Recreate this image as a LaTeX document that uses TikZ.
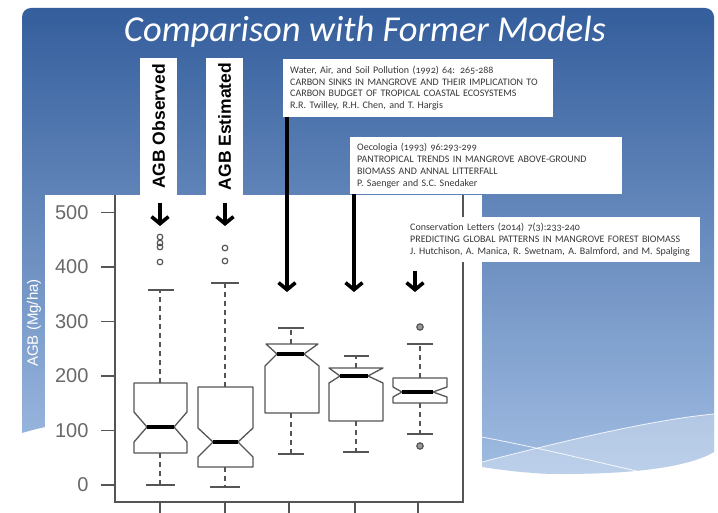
\documentclass[tikz,border=0pt]{standalone}
\usepackage{fontspec}
\setmainfont{Liberation Sans}
\newfontfamily\calfont[Numbers=OldStyle]{Carlito}
\newfontfamily\titlefont{Carlito}
\usetikzlibrary{arrows.meta}
\definecolor{bluetop}{RGB}{52,94,156}
\definecolor{bluemid}{RGB}{88,128,186}
\definecolor{bluebot}{RGB}{160,188,226}
\definecolor{axgrey}{RGB}{85,85,85}
\definecolor{lblgrey}{RGB}{105,105,105}
\definecolor{txtgrey}{RGB}{55,55,55}
\tikzset{
  refbox/.style={fill=white, anchor=north west, inner xsep=7pt, inner ysep=0pt,
    align=left, text=txtgrey, font=\calfont\fontsize{10}{11.7}\selectfont},
  collabel/.style={rotate=90, fill=white, minimum width=137pt, minimum height=37pt,
    inner sep=0pt, font=\bfseries\fontsize{17.5}{18}\selectfont},
  bigarrow/.style={line width=3.6pt, -{Straight Barb[length=7pt,width=17pt,line width=3.6pt]}},
  boxline/.style={draw=axgrey, line width=1.3pt, line join=round},
  median/.style={line width=3.2pt, black},
  whisk/.style={draw=axgrey, line width=1.3pt, dash pattern=on 5pt off 4pt},
  whiskcap/.style={draw=axgrey, line width=1.3pt},
  outl/.style={draw=axgrey, line width=1.2pt},
  plotaxis/.style={draw=axgrey, line width=1.3pt},
  ticklbl/.style={anchor=east, text=lblgrey, font=\fontsize{20}{20}\selectfont},
}
\begin{document}
\begin{tikzpicture}[x=1pt,y=-1pt]
\useasboundingbox (0,0) rectangle (718,513);
\fill[white] (0,0) rectangle (718,513);
% blue slide background
\shade[top color=bluetop, middle color=bluemid, bottom color=bluebot]
  (22,433) [rounded corners=9pt] -- (22,8) -- (714,8) [sharp corners] -- (714,452)
  .. controls (690,466) and (640,474) .. (560,474)
  .. controls (420,474) and (200,380) .. (22,433) -- cycle;
\fill[white, opacity=0.3] (482,462) .. controls (560,442) and (650,420) .. (714,414)
  -- (714,452) .. controls (690,466) and (640,474) .. (560,474) -- (482,472) -- cycle;
\draw[white, opacity=0.85, line width=0.8pt] (482,437) .. controls (560,452) and (620,468) .. (660,476);
\draw[white, opacity=0.85, line width=0.8pt] (482,462) .. controls (560,442) and (650,420) .. (714,414);
% title
\node[text=white, font=\titlefont\itshape\fontsize{36.5}{36.5}\selectfont] (title) at (365,32) {Comparison with Former Models};
% plot area
\fill[white] (45,195) rectangle (482,513);
\node[collabel] (obs) at (158.5,126.5) {AGB Observed};
\node[collabel] (est) at (224.5,126.5) {AGB Estimated};
\node[rotate=90, text=white, font=\fontsize{15}{15}\selectfont] (ylab) at (34,323) {AGB (Mg/ha)};
% frame
\draw[plotaxis] (115,195) -- (115,502) -- (463,502) -- (463,195);
% y ticks
\foreach \v/\yy in {0/485,100/430.5,200/376,300/321.5,400/267,500/212.5}{
  \draw[plotaxis] (101,\yy) -- (115,\yy);
  \node[ticklbl] (t\v) at (92,\yy) {\v};
}
% x ticks
\foreach \xx in {160,225,289,355,418}{
  \draw[plotaxis] (\xx,502) -- (\xx,514);
}
% box 1
\draw[whisk] (160,383) -- (160,290);
\draw[whisk] (160,453) -- (160,485);
\draw[whiskcap] (148,290) -- (174,290);
\draw[whiskcap] (146,485) -- (175,485);
\draw[boxline] (134,383) -- (187,383) -- (187,412) -- (174,427) -- (187,442) -- (187,453)
  -- (134,453) -- (134,442) -- (147,427) -- (134,412) -- cycle;
\draw[median] (147,427) -- (174,427);
\foreach \yy in {237,243,247,262} \draw[outl] (160,\yy) circle (2.8pt);
% box 2
\draw[whisk] (225,387) -- (225,283);
\draw[whisk] (225,467) -- (225,487);
\draw[whiskcap] (211,283) -- (239,283);
\draw[whiskcap] (210,487) -- (240,487);
\draw[boxline] (198,387) -- (253,387) -- (253,428) -- (238,442) -- (253,457) -- (253,467)
  -- (198,467) -- (198,457) -- (213,442) -- (198,428) -- cycle;
\draw[median] (213,442) -- (238,442);
\foreach \yy in {248,261} \draw[outl] (225,\yy) circle (2.8pt);
% box 3
\draw[whisk] (291,344) -- (291,328);
\draw[whisk] (291,413) -- (291,454);
\draw[whiskcap] (278,328) -- (304,328);
\draw[whiskcap] (278,454) -- (304,454);
\draw[boxline] (265,413) -- (265,366) -- (277,354) -- (266,344) -- (318,344) -- (304,354)
  -- (319,366) -- (319,413) -- cycle;
\draw[median] (277,354) -- (304,354);
% box 4
\draw[whisk] (356,368) -- (356,356);
\draw[whisk] (356,421) -- (356,452);
\draw[whiskcap] (344,356) -- (369,356);
\draw[whiskcap] (343,452) -- (369,452);
\draw[boxline] (329,421) -- (329,383) -- (340,376) -- (329,368) -- (383,368) -- (368,376)
  -- (383,383) -- (383,421) -- cycle;
\draw[median] (340,376) -- (368,376);
% box 5
\draw[whisk] (420,378) -- (420,344);
\draw[whisk] (420,403) -- (420,434);
\draw[whiskcap] (407,344) -- (433,344);
\draw[whiskcap] (407,434) -- (433,434);
\draw[boxline] (393,378) -- (447,378) -- (447,387) -- (433,392) -- (447,397) -- (447,403)
  -- (393,403) -- (393,397) -- (402,392) -- (393,387) -- cycle;
\draw[median] (402,392) -- (433,392);
\foreach \yy in {327,446} \draw[outl, fill=gray!80] (420,\yy) circle (3.2pt);
% reference boxes
\node[refbox, minimum width=270pt, minimum height=58pt, text width=256pt] (r1) at (283,59)
 {Water, Air, and Soil Pollution (1992) 64: 265-288\\
  CARBON SINKS IN MANGROVE AND THEIR IMPLICATION TO\\
  CARBON BUDGET OF TROPICAL COASTAL ECOSYSTEMS\\
  R.R. Twilley, R.H. Chen, and T. Hargis};
\node[refbox, minimum width=272pt, minimum height=57pt, text width=258pt] (r2) at (350,137)
 {Oecologia (1993) 96:293-299\\
  PANTROPICAL TRENDS IN MANGROVE ABOVE-GROUND\\
  BIOMASS AND ANNAL LITTERFALL\\
  P. Saenger and S.C. Snedaker};
\node[refbox, minimum width=297pt, minimum height=45pt, text width=283pt] (r3) at (403,217)
 {Conservation Letters (2014) 7(3):233-240\\
  PREDICTING GLOBAL PATTERNS IN MANGROVE FOREST BIOMASS\\
  J. Hutchison, A. Manica, R. Swetnam, A. Balmford, and M. Spalging};
% arrows
\coordinate (a1s) at (160,203); \coordinate (a1e) at (160,226);
\coordinate (a2s) at (225,203); \coordinate (a2e) at (225,226);
\coordinate (a3e) at (287,292);
\coordinate (a4e) at (354,292);
\coordinate (a5s) at (415,271); \coordinate (a5e) at (415,292);
\draw[bigarrow] (a1s) -- (a1e);
\draw[bigarrow] (a2s) -- (a2e);
\draw[bigarrow] ([xshift=4pt]r1.south west) -- (a3e);
\draw[bigarrow] ([xshift=4pt]r2.south west) -- (a4e);
\draw[bigarrow] (a5s) -- (a5e);
\end{tikzpicture}
\end{document}
